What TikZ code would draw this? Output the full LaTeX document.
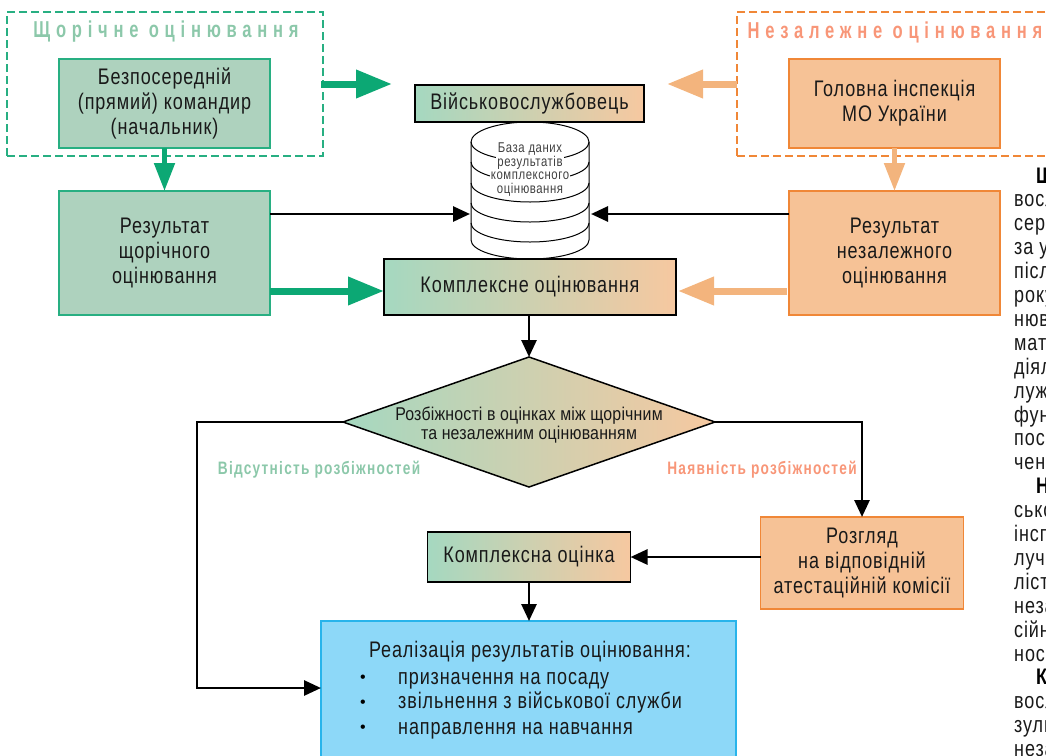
\documentclass[tikz,border=0pt]{standalone}
\usepackage{fontspec}
\setmainfont{Liberation Sans}
\newfontfamily\bodyf[FakeStretch=0.80,LetterSpace=4]{Liberation Sans}
\newfontfamily\narrowf[FakeStretch=0.86,LetterSpace=1]{Liberation Sans}
\newfontfamily\titlef[FakeStretch=0.72,LetterSpace=25]{Liberation Sans}
\newfontfamily\labelf[FakeStretch=0.76,LetterSpace=7]{Liberation Sans}
\usetikzlibrary{arrows.meta,shapes.geometric}
\definecolor{gbord}{RGB}{40,175,130}
\definecolor{gfill}{RGB}{174,210,190}
\definecolor{gdark}{RGB}{12,168,116}
\definecolor{gtext}{RGB}{140,200,170}
\definecolor{obord}{RGB}{240,135,55}
\definecolor{ofill}{RGB}{246,194,150}
\definecolor{odark}{RGB}{243,180,125}
\definecolor{otext}{RGB}{248,150,120}
\definecolor{gradl}{RGB}{165,216,192}
\definecolor{gradm}{RGB}{212,214,180}
\definecolor{gradr}{RGB}{246,200,160}
\definecolor{bfill}{RGB}{141,216,248}
\definecolor{bbord}{RGB}{40,180,235}
\tikzset{
  base/.style={rectangle,inner sep=0pt,outer sep=0pt,align=center,text=black!90,font=\bodyf\fontsize{22.5}{25}\selectfont},
  gbox/.style={base,draw=gbord,line width=1.2pt,fill=gfill},
  obox/.style={base,draw=obord,line width=1.2pt,fill=ofill},
  gradbox/.style={base,draw=black,line width=1.6pt,left color=gradl,middle color=gradm,right color=gradr},
  dashg/.style={rectangle,inner sep=0pt,outer sep=0pt,draw=gbord,line width=1.2pt,dash pattern=on 8pt off 4pt},
  dasho/.style={rectangle,inner sep=0pt,outer sep=0pt,draw=obord,line width=1.2pt,dash pattern=on 8pt off 4pt},
  titletxt/.style={inner sep=0pt,font=\titlef\bfseries\fontsize{23}{26}\selectfont},
  flowblack/.style={draw=black,line width=2.8pt,-{Triangle[length=17pt,width=15pt]}},
  thickg/.style={draw=gdark,line width=7pt,-{Triangle[length=36pt,width=27pt]}},
  thicko/.style={draw=odark,line width=7pt,-{Triangle[length=36pt,width=27pt]}},
  medg/.style={draw=gdark,line width=5pt,-{Triangle[length=28pt,width=20pt]}},
  medo/.style={draw=odark,line width=5pt,-{Triangle[length=28pt,width=20pt]}},
  dbtext/.style={inner sep=1pt,text height=9pt,text depth=2.5pt,fill=white,text=black!75,font=\bodyf\fontsize{14.2}{14}\selectfont},
  sidetext/.style={anchor=west,inner sep=0pt,text height=15pt,text depth=5pt,text=black!90,font=\bodyf\fontsize{22.5}{24}\selectfont},
  sidebold/.style={anchor=west,inner sep=0pt,text height=15pt,text depth=5pt,text=black,font=\bodyf\bfseries\fontsize{22.5}{24}\selectfont},
  bullettxt/.style={anchor=west,inner sep=0pt,text height=15pt,text depth=5pt,text=black!90,font=\bodyf\fontsize{22.5}{24}\selectfont},
}
\begin{document}
\begin{tikzpicture}[x=1pt,y=-1pt]
\useasboundingbox (0,0) rectangle (1046,755);
% dashed frames
\node[dashg,minimum width=316pt,minimum height=144pt] (framegreen) at (165,84) {};
\node[dasho,minimum width=340pt,minimum height=144pt] (frameorange) at (907,84) {};
\node[titletxt,text=gtext] (titlegreen) at (166,32) {Щорічне оцінювання};
\node[titletxt,text=otext] (titleorange) at (895,32) {Незалежне оцінювання};
% boxes
\node[gbox,minimum width=211pt,minimum height=89pt] (commander) at (164.5,103.5) {Безпосередній\\(прямий) командир\\(начальник)};
\node[gbox,minimum width=211pt,minimum height=124pt] (resg) at (164.5,253) {Результат\\щорічного\\оцінювання};
\node[obox,minimum width=211pt,minimum height=89pt] (inspect) at (894.5,103.5) {Головна інспекція\\МО України};
\node[obox,minimum width=211pt,minimum height=124pt] (reso) at (894.5,253) {Результат\\незалежного\\оцінювання};
% database
\node[rectangle,inner sep=0pt,outer sep=0pt,minimum width=118pt,minimum height=137pt] (db) at (530,190.5) {};
\fill[white] (471,142) arc[start angle=180,end angle=0,x radius=59pt,y radius=20pt] -- (589,240) arc[start angle=360,end angle=180,x radius=59pt,y radius=19pt] -- cycle;
\draw[line width=1pt] (471,142) arc[start angle=180,end angle=0,x radius=59pt,y radius=20pt] -- (589,240) arc[start angle=360,end angle=180,x radius=59pt,y radius=19pt] -- cycle;
\foreach \yy in {142,162,183,203,223}
  \draw[line width=1pt] (471,\yy) arc[start angle=180,end angle=360,x radius=59pt,y radius=19pt];
\node[dbtext] (dbt1) at (530,149.5) {База даних};
\node[dbtext] (dbt2) at (530,163) {результатів};
\node[dbtext] (dbt3) at (530,176.5) {комплексного};
\node[dbtext] (dbt4) at (530,190) {оцінювання};
\node[gradbox,minimum width=229pt,minimum height=37pt] (soldier) at (529.5,103.5) {Військовослужбовець};
\node[gradbox,minimum width=292pt,minimum height=56pt] (complex) at (530,287) {Комплексне оцінювання};
% decision
\node[diamond,shape aspect=2.86,inner sep=0pt,outer sep=0pt,draw=black,line width=1.5pt,left color=gradl,middle color=gradm,right color=gradr,minimum width=372pt,minimum height=130pt] (decide) at (529,422) {};
\node[inner sep=0pt,align=center,text=black!90,font=\narrowf\fontsize{18.5}{19}\selectfont] (decidet) at (529,425) {Розбіжності в оцінках між щорічним\\та незалежним оцінюванням};
\node[inner sep=0pt,text=gtext,font=\labelf\bfseries\fontsize{18}{20}\selectfont] (nodiff) at (319,470) {Відсутність розбіжностей};
\node[inner sep=0pt,text=otext,font=\labelf\bfseries\fontsize{18}{20}\selectfont] (yesdiff) at (762,470) {Наявність розбіжностей};
\node[obox,minimum width=203pt,minimum height=92pt] (review) at (862,563) {Розгляд\\на відповідній\\атестаційній комісії};
\node[gradbox,minimum width=203pt,minimum height=50pt] (mark) at (529,557) {Комплексна оцінка};
% result box runs past the page foot
\node[base,draw=bbord,line width=1.2pt,fill=bfill,minimum width=415pt,minimum height=150pt] (impl) at (528.5,696) {};
\node[bullettxt,anchor=center] (implt) at (530,652) {Реалізація результатів оцінювання:};
\node[inner sep=0pt,font=\fontsize{16}{20}\selectfont] (b1) at (363,679) {•};
\node[inner sep=0pt,font=\fontsize{16}{20}\selectfont] (b2) at (363,704) {•};
\node[inner sep=0pt,font=\fontsize{16}{20}\selectfont] (b3) at (363,729) {•};
\node[bullettxt] (l1) at (398,679) {призначення на посаду};
\node[bullettxt] (l2) at (398,703) {звільнення з військової служби};
\node[bullettxt] (l3) at (398,729) {направлення на навчання};
% side text cut by the page edge
\node[sidebold] (s0) at (1036,178) {Щ};
\node[sidetext] (s1) at (1014,201.9) {восл};
\node[sidetext] (s2) at (1014,225.8) {сере};
\node[sidetext] (s3) at (1014,249.7) {за у};
\node[sidetext] (s4) at (1014,273.6) {післ};
\node[sidetext] (s5) at (1014,297.5) {року};
\node[sidetext] (s6) at (1014,321.4) {нюв};
\node[sidetext] (s7) at (1014,345.3) {мати};
\node[sidetext] (s8) at (1014,369.2) {діял};
\node[sidetext] (s9) at (1014,393.1) {луж};
\node[sidetext] (s10) at (1014,417) {фун};
\node[sidetext] (s11) at (1014,440.9) {поса};
\node[sidetext] (s12) at (1014,464.8) {чени};
\node[sidebold] (s13) at (1036,488.7) {Н};
\node[sidetext] (s14) at (1014,512.6) {сько};
\node[sidetext] (s15) at (1014,536.5) {інсп};
\node[sidetext] (s16) at (1014,560.4) {луче};
\node[sidetext] (s17) at (1014,584.3) {лісті};
\node[sidetext] (s18) at (1014,608.2) {неза};
\node[sidetext] (s19) at (1014,632.1) {сійн};
\node[sidetext] (s20) at (1014,656) {ност};
\node[sidebold] (s21) at (1036,679.9) {К};
\node[sidetext] (s22) at (1014,703.8) {восл};
\node[sidetext] (s23) at (1014,727.7) {зуль};
\node[sidetext] (s24) at (1014,751.6) {неза};
% free ends
\coordinate (gend) at (392,84);
\coordinate (oend) at (667,84);
\coordinate (dbL) at (470,214);
\coordinate (dbR) at (591,214);
\coordinate (gleft) at (197,422);
\coordinate (gbottom) at (197,688);
\coordinate (oright) at (862,422);
% connectors
\draw[thickg] (framegreen.east) ++(-2pt,0) -- (gend);
\draw[thicko] (frameorange.west) -- (oend);
\draw[medg] (commander.south) -- (resg.north);
\draw[medo] (inspect.south) -- (reso.north);
\draw[flowblack] ([yshift=-23pt]resg.north east) -- (dbL);
\draw[flowblack] ([yshift=-23pt]reso.north west) -- (dbR);
\draw[thickg] ([yshift=-38pt]resg.east) -- ([yshift=-4pt]complex.west);
\draw[thicko] ([yshift=-38pt,xshift=-2pt]reso.west) -- ([yshift=-4pt,xshift=2pt]complex.east);
\draw[flowblack] (complex.south -| decide.north) -- (decide.north);
\draw[flowblack] (decide.west) -- (gleft) -- (gbottom) -- (gbottom -| impl.west);
\draw[flowblack] (decide.east) -- (oright) -- (review.north);
\draw[flowblack] (review.west |- mark.east) -- (mark.east);
\draw[flowblack] (mark.south) -- (mark.south |- impl.north);
\end{tikzpicture}
\end{document}
